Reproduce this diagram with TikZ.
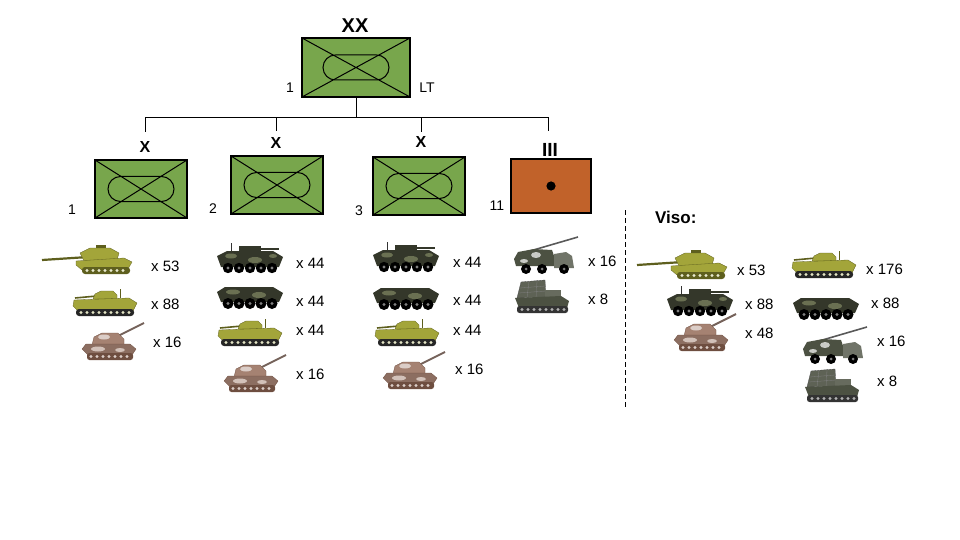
\documentclass[tikz,border=0pt]{standalone}
\usepackage{fontspec}
\setmainfont{Liberation Sans}
\definecolor{unitgreen}{HTML}{78A64C}
\definecolor{fireorange}{HTML}{C1622A}
\definecolor{olive}{HTML}{A3A53A}
\definecolor{darkolive}{HTML}{5E5F1E}
\definecolor{camo}{HTML}{34372A}
\definecolor{camolight}{HTML}{6A7052}
\definecolor{sphbrown}{HTML}{A58272}
\definecolor{sphdark}{HTML}{6E4E40}
\definecolor{truckgray}{HTML}{4C5142}

\tikzset{
	unit/.style={draw,line width=1.2pt,minimum width=92pt,minimum height=58pt,inner sep=0pt,fill=unitgreen},
	armour/.style={unit,path picture={
		\draw[line width=1pt] (path picture bounding box.north west) -- (path picture bounding box.south east)
			(path picture bounding box.south west) -- (path picture bounding box.north east);
		\draw[line width=1pt,rounded corners=12.5pt] ([xshift=-33pt,yshift=-12.5pt]path picture bounding box.center)
			rectangle ([xshift=33pt,yshift=12.5pt]path picture bounding box.center);}},
	fires/.style={unit,fill=fireorange,minimum width=80pt,minimum height=54pt},
	ech/.style={font=\bfseries\fontsize{16}{16}\selectfont,inner sep=0pt},
	num/.style={font=\fontsize{14}{14}\selectfont,inner sep=0pt},
	qty/.style={anchor=west,font=\fontsize{15}{15}\selectfont,inner sep=0pt},
	mbt/.pic={
		\draw[darkolive,line width=2.2pt] (0,15) -- (46,12);
		\fill[olive,draw=darkolive,line width=0.3pt] (38,8) -- (48,3) -- (68,3) -- (77,8) -- (75,15) -- (42,16) -- cycle;
		\fill[darkolive] (54,0) rectangle (64,3);
		\fill[olive,draw=darkolive,line width=0.3pt] (34,16) -- (82,13) -- (90,17) -- (86,24) -- (40,25) -- (34,20) -- cycle;
		\fill[darkolive,rounded corners=3pt] (40,22) rectangle (88,29);
		\foreach \w in {45,51,...,83} \fill[white!75!olive] (\w,25.5) circle[radius=1.6];
	},
	ifv/.pic={
		\draw[darkolive,line width=1.6pt] (2,9) -- (24,7);
		\fill[olive,draw=darkolive,line width=0.3pt] (20,10) -- (22,5) -- (28,2) -- (40,2) -- (44,6) -- (44,10) -- cycle;
		\draw[darkolive,line width=0.5pt] (47,0) -- (47,9);
		\fill[olive,draw=darkolive,line width=0.3pt] (1,11) -- (56,9) -- (64,14) -- (60,22) -- (6,23) -- (0,17) -- cycle;
		\fill[black!85,rounded corners=3pt] (3,20) rectangle (61,27);
		\foreach \w in {8,14,...,56} \fill[white!70!olive] (\w,23.5) circle[radius=1.7];
	},
	sph/.pic={
		\draw[sphdark!60!gray,line width=2pt] (30,17) -- (64,0);
		\fill[sphbrown,draw=sphdark,line width=0.3pt] (12,22) -- (14,14) -- (22,10) -- (38,10) -- (44,16) -- (44,22) -- cycle;
		\fill[white!60!sphbrown] (24,14) ellipse[x radius=6,y radius=2.5];
		\fill[sphbrown!85!black,draw=sphdark,line width=0.3pt] (2,26) -- (6,21) -- (50,21) -- (56,26) -- (52,32) -- (8,32) -- cycle;
		\fill[white!50!sphbrown] (18,26) ellipse[x radius=7,y radius=2.5] (40,27) ellipse[x radius=5,y radius=2];
		\fill[sphdark,rounded corners=2.5pt] (7,30) rectangle (53,37);
		\foreach \w in {11,17,...,49} \fill[white!60!sphbrown] (\w,33.5) circle[radius=1.6];
	},
	wapc/.pic={
		\draw[black!80,line width=0.5pt] (14,0) -- (14,8);
		\draw[camo,line width=1.5pt] (40,6) -- (62,6);
		\fill[camo] (22,3) rectangle (44,9);
		\fill[camo] (0,13) -- (10,8) -- (56,8) -- (66,14) -- (62,24) -- (4,24) -- cycle;
		\fill[camolight] (14,13) ellipse[x radius=6,y radius=2.5] (38,17) ellipse[x radius=7,y radius=3] (56,13) ellipse[x radius=4,y radius=2];
		\foreach \w in {11,22,33,44,55} {\fill[black] (\w,25) circle[radius=5.2]; \fill[gray] (\w,25) circle[radius=1.6];}
	},
	wapc2/.pic={
		\fill[camo] (0,5) -- (8,0) -- (56,0) -- (66,6) -- (62,15) -- (4,15) -- cycle;
		\fill[camolight] (16,5) ellipse[x radius=7,y radius=2.5] (42,8) ellipse[x radius=7,y radius=3];
		\foreach \w in {11,22,33,44,55} {\fill[black] (\w,16.5) circle[radius=5.5]; \fill[gray] (\w,16.5) circle[radius=1.6];}
	},
	truck/.pic={
		\draw[gray!70!black,line width=1.6pt] (16,14) -- (64,0);
		\fill[truckgray] (0,22) -- (4,15) -- (20,12) -- (38,13) -- (40,19) -- (40,29) -- (2,29) -- cycle;
		\fill[white!70!truckgray] (22,18) ellipse[x radius=5,y radius=3] (10,24) ellipse[x radius=4,y radius=2];
		\fill[truckgray!80!white] (40,17) -- (52,15) -- (58,19) -- (60,31) -- (40,31) -- cycle;
		\foreach \w in {12,28,50} {\fill[black] (\w,32) circle[radius=5]; \fill[gray] (\w,32) circle[radius=1.5];}
	},
	mlrs/.pic={
		\fill[truckgray!90!white,draw=black!70,line width=0.3pt] (2,18) -- (6,2) -- (30,0) -- (31,17) -- cycle;
		\draw[black!50,line width=0.3pt] (5,8) -- (30,6) (4,13) -- (31,11) (14,1) -- (12,18) (22,1) -- (21,18);
		\fill[truckgray!85!white] (30,10) rectangle (46,18);
		\fill[truckgray] (0,18) -- (46,16) -- (54,21) -- (52,28) -- (4,28) -- cycle;
		\fill[black!80,rounded corners=2.5pt] (2,26) rectangle (53,33);
		\foreach \w in {7,13,...,49} \fill[gray!60] (\w,29.5) circle[radius=1.6];
	}
}

\begin{document}
\begin{tikzpicture}[x=1pt,y=-1pt]
	\useasboundingbox (0,0) rectangle (960,540);
	% division and brigades
	\node[armour,minimum width=108pt,minimum height=59pt] (div) at (356,67.5) {};
	\node[ech,font=\bfseries\fontsize{20}{20}\selectfont] (xx) at (355,26) {XX};
	\node[num] (n0) at (290,88) {1};
	\node[num] (lt) at (427,88) {LT};
	\node[armour] (b1) at (141,189) {};
	\node[armour] (b2) at (277,185) {};
	\node[armour] (b3) at (419,186) {};
	\node[fires] (a11) at (551,186) {};
	\fill (a11.center) circle[radius=4.6];
	\node[ech] (x1) at (145,147) {X};
	\node[ech] (x2) at (276,143) {X};
	\node[ech] (x3) at (421,142) {X};
	\node[ech,font=\bfseries\fontsize{19}{19}\selectfont] (x4) at (550,150) {III};
	\node[num] (n1) at (72,210) {1};
	\node[num] (n2) at (213,209) {2};
	\node[num] (n3) at (359,211) {3};
	\node[num] (n11) at (497,206) {11};
	\coordinate (bus) at (356,118);
	\coordinate (t1) at (145,132);
	\coordinate (t2) at (276,131);
	\coordinate (t3) at (421,132);
	\coordinate (t4) at (548,131);
	\draw[line width=1pt] (div.south) -- (bus);
	\draw[line width=1pt] (t1) -- (t1 |- bus) -- (t4 |- bus) -- (t4);
	\draw[line width=1pt] (t2) -- (t2 |- bus);
	\draw[line width=1pt] (t3) -- (t3 |- bus);
	% equipment
	\pic at (42,245) {mbt};
	\node[qty] (q1a) at (151,266) {x 53};
	\pic at (73,289) {ifv};
	\node[qty] (q1b) at (151,304) {x 88};
	\pic at (80,323) {sph};
	\node[qty] (q1c) at (153,342) {x 16};
	\pic at (217,243) {wapc};
	\node[qty] (q2a) at (296,263) {x 44};
	\pic at (217,287) {wapc2};
	\node[qty] (q2b) at (296,301) {x 44};
	\pic at (218,319) {ifv};
	\node[qty] (q2c) at (296,330) {x 44};
	\pic at (222,355) {sph};
	\node[qty] (q2d) at (296,374) {x 16};
	\pic at (373,242) {wapc};
	\node[qty] (q3a) at (453,262) {x 44};
	\pic at (373,288) {wapc2};
	\node[qty] (q3b) at (453,300) {x 44};
	\pic at (375,319) {ifv};
	\node[qty] (q3c) at (453,330) {x 44};
	\pic at (381,352) {sph};
	\node[qty] (q3d) at (455,369) {x 16};
	\pic at (514,237) {truck};
	\node[qty] (q4a) at (588,261) {x 16};
	\pic at (515,280) {mlrs};
	\node[qty] (q4b) at (588,299) {x 8};
	% totals
	\draw[line width=1pt,dash pattern=on 5pt off 3pt] (625,210) -- (625,408);
	\node[anchor=west,inner sep=0pt,font=\bfseries\fontsize{17}{17}\selectfont] (viso) at (655,217) {Viso:};
	\pic at (637,250) {mbt};
	\node[qty] (v1) at (737,270) {x 53};
	\pic at (667,286) {wapc};
	\node[qty] (v2) at (745,304) {x 88};
	\pic at (672,314) {sph};
	\node[qty] (v3) at (745,333) {x 48};
	\pic at (792,251) {ifv};
	\node[qty] (v4) at (866,269) {x 176};
	\pic at (793,298) {wapc2};
	\node[qty] (v5) at (871,303) {x 88};
	\pic at (803,327) {truck};
	\node[qty] (v6) at (877,341) {x 16};
	\pic at (805,369) {mlrs};
	\node[qty] (v7) at (877,381) {x 8};
\end{tikzpicture}
\end{document}
